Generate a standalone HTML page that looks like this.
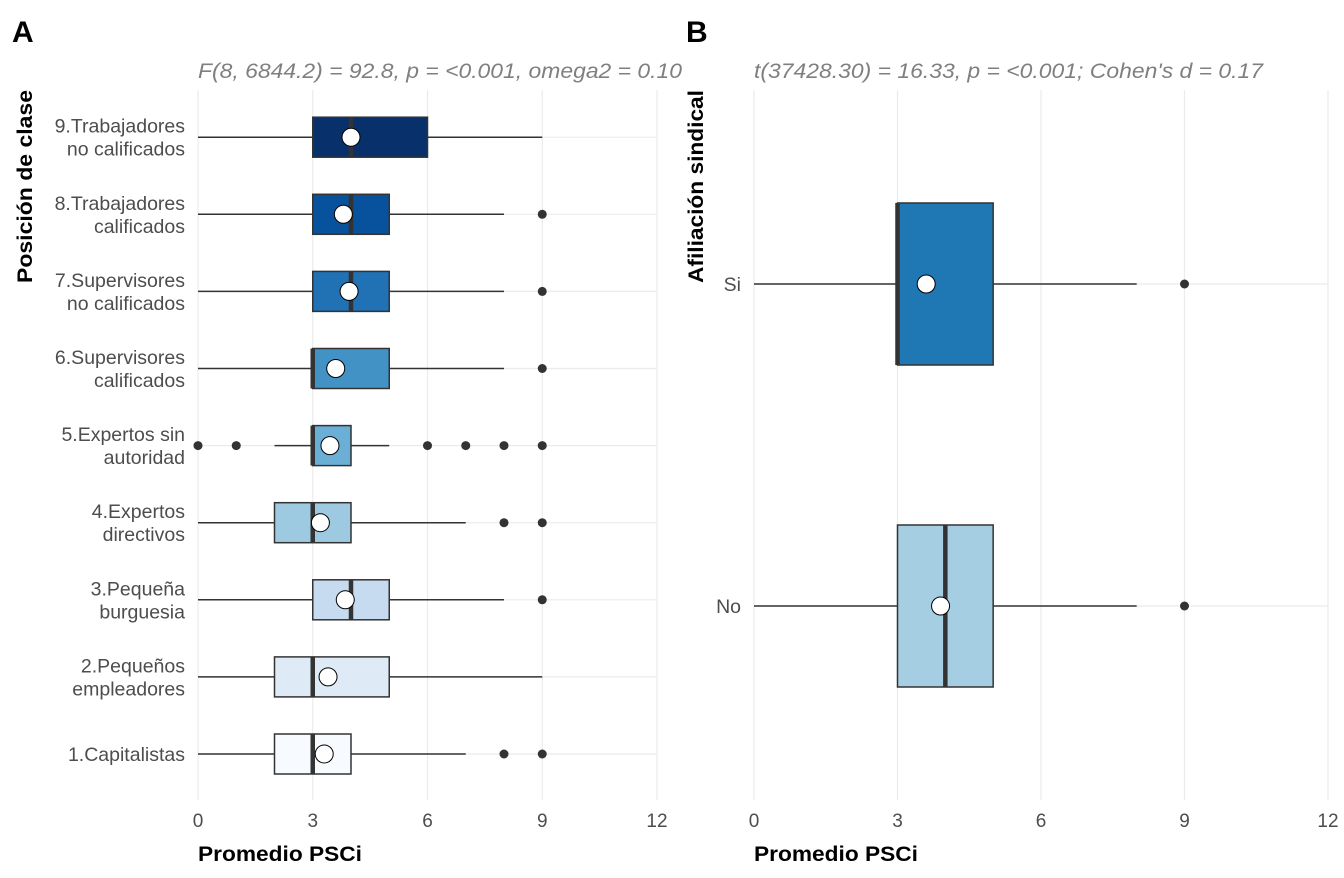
<!DOCTYPE html>
<html><head><meta charset="utf-8"><style>
body{margin:0;background:#fff;width:1344px;height:873px;overflow:hidden}
text{font-family:"Liberation Sans",sans-serif}
</style></head><body>
<svg id="s" width="1344" height="873" xmlns="http://www.w3.org/2000/svg">
<text x="12" y="42" font-size="30" font-weight="bold">A</text>
<text x="686" y="42" font-size="30" font-weight="bold">B</text>
<text x="198" y="78" font-size="21" font-style="italic" fill="#7f7f7f" textLength="484" lengthAdjust="spacingAndGlyphs">F(8, 6844.2) = 92.8, p = &lt;0.001, omega2 = 0.10</text>
<text x="754" y="78" font-size="21" font-style="italic" fill="#7f7f7f" textLength="509" lengthAdjust="spacingAndGlyphs">t(37428.30) = 16.33, p = &lt;0.001; Cohen's d = 0.17</text>
<text x="198" y="861" font-size="21" font-weight="bold" textLength="164" lengthAdjust="spacingAndGlyphs">Promedio PSCi</text>
<text x="754" y="861" font-size="21" font-weight="bold" textLength="164" lengthAdjust="spacingAndGlyphs">Promedio PSCi</text>
<text transform="translate(32,283) rotate(-90)" font-size="21" font-weight="bold" textLength="193" lengthAdjust="spacingAndGlyphs">Posición de clase</text>
<text transform="translate(703,283) rotate(-90)" font-size="21" font-weight="bold" textLength="193" lengthAdjust="spacingAndGlyphs">Afiliación sindical</text>
<g id="ga"></g><g id="gb"></g>
</svg>
<script>
const catsA=["1.Capitalistas","2.Pequeños|empleadores","3.Pequeña|burguesia","4.Expertos|directivos","5.Expertos sin|autoridad","6.Supervisores|calificados","7.Supervisores|no calificados","8.Trabajadores|calificados","9.Trabajadores|no calificados"];
const loA=[0,0,0,0,2,0,0,0,0];
const q1A=[2,2,3,2,3,3,3,3,3];
const medA=[3,3,4,3,3,3,4,4,4];
const q3A=[4,5,5,4,4,5,5,5,6];
const hiA=[7,9,8,7,5,8,8,8,9];
const meanA=[3.3,3.4,3.85,3.2,3.45,3.6,3.95,3.8,4.0];
const outA=[[8,9],[],[9],[8,9],[0,1,6,7,8,9],[9],[9],[9],[]];
const colA=["#f7fbff","#deebf7","#c6dbef","#9ecae1","#6baed6","#4292c6","#2171b5","#08519c","#08306b"];
const catsB=["No","Si"];
const loB=[0,0],q1B=[3,3],medB=[4,3],q3B=[5,5],hiB=[8,8],meanB=[3.9,3.6],outB=[[9],[9]];
const colB=["#a6cee3","#1f78b4"];
const ticks=[0,3,6,9,12];
const NS="http://www.w3.org/2000/svg";
function el(p,t,a){const e=document.createElementNS(NS,t);for(const k in a)e.setAttribute(k,a[k]);p.appendChild(e);return e;}
function panel(g,x0,x1,yTop,yBot,y0,yStep,cats,lo,q1,med,q3,hi,mean,outs,cols,hh,pre){
 const xs=v=>x0+(x1-x0)*v/12, ys=i=>y0-i*yStep;
 for(const t of ticks){
  const l=el(g,'line',{x1:xs(t),x2:xs(t),y1:yTop,y2:yBot,stroke:'#ebebeb','stroke-width':1.2});
  
  const tx=el(g,'text',{x:xs(t),y:yBot+27,'font-size':19,fill:'#4d4d4d','text-anchor':'middle'});tx.textContent=t;
  
 }
 cats.forEach((c,i)=>{const y=ys(i);
  const gl=el(g,'line',{x1:x0,x2:x1,y1:y,y2:y,stroke:'#ebebeb','stroke-width':1.2});
  
  const parts=c.split('|');
  parts.forEach((p,k)=>{const t=el(g,'text',{x:x0-13,y:y+7+(k-(parts.length-1)/2)*23,'font-size':19.5,fill:'#4d4d4d','text-anchor':'end'});t.textContent=p;
   });
  const bg=el(g,'g',{});
  el(bg,'line',{x1:xs(lo[i]),x2:xs(q1[i]),y1:y,y2:y,stroke:'#333','stroke-width':1.5});
  el(bg,'line',{x1:xs(q3[i]),x2:xs(hi[i]),y1:y,y2:y,stroke:'#333','stroke-width':1.5});
  el(bg,'rect',{x:xs(q1[i]),y:y-hh,width:xs(q3[i])-xs(q1[i]),height:2*hh,fill:cols[i],stroke:'#333','stroke-width':1.5});
  el(bg,'line',{x1:xs(med[i]),x2:xs(med[i]),y1:y-hh,y2:y+hh,stroke:'#333','stroke-width':4.5});
  outs[i].forEach(o=>{const c2=el(bg,'circle',{cx:xs(o),cy:y,r:4.5,fill:'#333'});});
  const m=el(bg,'circle',{cx:xs(mean[i]),cy:y,r:9,fill:'#fff',stroke:'#000','stroke-width':1});
  
 });
}
panel(document.getElementById('ga'),198,657,90,800,754,77.1,catsA,loA,q1A,medA,q3A,hiA,meanA,outA,colA,20,'panel-a');
panel(document.getElementById('gb'),754,1328,90,800,606,322,catsB,loB,q1B,medB,q3B,hiB,meanB,outB,colB,81,'panel-b');
</script>
</body></html>
